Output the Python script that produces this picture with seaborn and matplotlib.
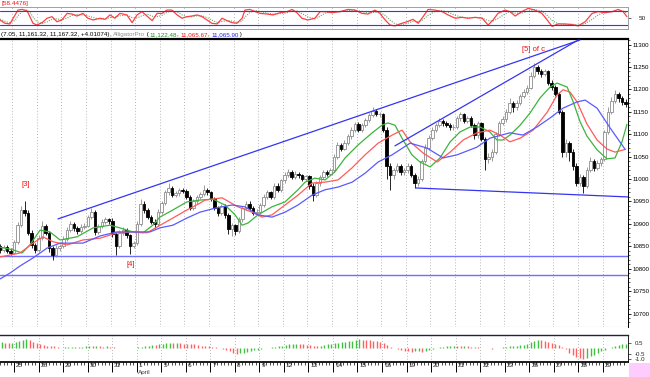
import matplotlib
matplotlib.use("Agg")
import matplotlib.pyplot as plt
import matplotlib.transforms as mtrans
from matplotlib.patches import Rectangle
import seaborn as sns
import numpy as np
import pandas as pd

sns.set_theme(style="white")
plt.rcParams['font.family'] = ['Liberation Sans', 'DejaVu Sans']

# ---- data (hourly bars, 7 per session) ----
days = ["25", "26", "29", "30", "31", "1", "5", "6", "7", "8", "9", "12", "13",
        "14", "15", "16", "19", "20", "21", "22", "23", "26", "27", "28", "29"]
pre_bars = 4
bars_per_day = 7

opens = [10850, 10842, 10848, 10840,
         10836, 10860, 10898, 10930, 10925, 10880, 10852,
         10841, 10868, 10895, 10880, 10845, 10830, 10846,
         10850, 10866, 10886, 10900, 10890, 10884, 10894,
         10896, 10915, 10926, 10882, 10895, 10905, 10910,
         10907, 10878, 10850, 10880, 10886, 10874, 10850,
         10857, 10900, 10945, 10930, 10915, 10905, 10900,
         10927, 10946, 10970, 10980, 10965, 10968, 10975,
         10974, 10960, 10935, 10950, 10960, 10966, 10976,
         10970, 10955, 10936, 10925, 10940, 10920, 10888,
         10897, 10885, 10910, 10935, 10945, 10935, 10925,
         10927, 10942, 10960, 10970, 10960, 10985, 10975,
         10997, 11010, 11015, 11005, 11012, 11008, 11000,
         11006, 10985, 10965, 10990, 11005, 11015, 11012,
         11019, 11050, 11075, 11068, 11080, 11095, 11110,
         11123, 11110, 11120, 11132, 11142, 11152, 11145,
         11145, 11110, 11030, 11010, 11020, 11030, 11015,
         11019, 11030, 11010, 10990, 11000, 11040, 11070,
         11092, 11110, 11120, 11130, 11125, 11120, 11115,
         11117, 11135, 11145, 11130, 11135, 11120, 11098,
         11125, 11090, 11045, 11050, 11060, 11100, 11125,
         11134, 11150, 11170, 11160, 11170, 11185, 11195,
         11204, 11230, 11250, 11240, 11235, 11240, 11215,
         11205, 11190, 11150, 11060, 11080, 11060, 11030,
         10992, 11005, 10985, 11020, 11040, 11025, 11035,
         11045, 11105, 11150, 11175, 11190, 11180, 11172]
closes = [10842, 10848, 10840, 10836,
          10860, 10898, 10930, 10925, 10880, 10852, 10841,
          10868, 10895, 10880, 10845, 10830, 10846, 10850,
          10866, 10886, 10900, 10890, 10884, 10894, 10896,
          10915, 10926, 10882, 10895, 10905, 10910, 10907,
          10878, 10850, 10880, 10886, 10874, 10850, 10857,
          10900, 10945, 10930, 10915, 10905, 10900, 10927,
          10946, 10970, 10980, 10965, 10968, 10975, 10974,
          10960, 10935, 10950, 10960, 10966, 10976, 10970,
          10955, 10936, 10925, 10940, 10920, 10888, 10897,
          10885, 10910, 10935, 10945, 10935, 10925, 10927,
          10942, 10960, 10970, 10960, 10985, 10975, 10997,
          11010, 11015, 11005, 11012, 11008, 11000, 11006,
          10985, 10965, 10990, 11005, 11015, 11012, 11019,
          11050, 11075, 11068, 11080, 11095, 11110, 11123,
          11110, 11120, 11132, 11142, 11152, 11145, 11145,
          11110, 11030, 11010, 11020, 11030, 11015, 11019,
          11030, 11010, 10990, 11000, 11040, 11070, 11092,
          11110, 11120, 11130, 11125, 11120, 11115, 11117,
          11135, 11145, 11130, 11135, 11120, 11098, 11125,
          11090, 11045, 11050, 11060, 11100, 11125, 11134,
          11150, 11170, 11160, 11170, 11185, 11195, 11204,
          11230, 11250, 11240, 11235, 11240, 11215, 11205,
          11190, 11150, 11060, 11080, 11060, 11030, 10992,
          11005, 10985, 11020, 11040, 11025, 11035, 11045,
          11105, 11150, 11175, 11190, 11180, 11172, 11167]
highs = [10856, 10853, 10852, 10846,
         10865, 10903, 10940, 10952, 10930, 10886, 10858,
         10874, 10906, 10900, 10884, 10850, 10852, 10856,
         10872, 10892, 10906, 10905, 10895, 10899, 10902,
         10920, 10936, 10930, 10900, 10910, 10916, 10914,
         10912, 10882, 10886, 10892, 10890, 10878, 10862,
         10906, 10955, 10950, 10935, 10920, 10910, 10932,
         10952, 10976, 10990, 10984, 10974, 10980, 10979,
         10978, 10964, 10955, 10965, 10972, 10986, 10980,
         10974, 10960, 10940, 10945, 10944, 10925, 10902,
         10900, 10915, 10940, 10950, 10950, 10940, 10932,
         10946, 10966, 10975, 10974, 10992, 10990, 11000,
         11016, 11022, 11020, 11018, 11016, 11012, 11010,
         11010, 10990, 10995, 11010, 11020, 11020, 11024,
         11056, 11082, 11080, 11086, 11100, 11116, 11128,
         11128, 11125, 11136, 11148, 11160, 11156, 11150,
         11148, 11115, 11035, 11025, 11035, 11034, 11024,
         11035, 11034, 11014, 11006, 11045, 11078, 11098,
         11116, 11126, 11136, 11134, 11130, 11124, 11122,
         11140, 11150, 11148, 11140, 11140, 11124, 11130,
         11128, 11094, 11058, 11066, 11105, 11130, 11140,
         11156, 11180, 11175, 11176, 11190, 11200, 11210,
         11238, 11258, 11254, 11246, 11246, 11244, 11220,
         11210, 11195, 11155, 11090, 11085, 11066, 11035,
         11012, 11010, 11026, 11048, 11045, 11042, 11050,
         11110, 11160, 11184, 11198, 11194, 11186, 11178]
lows = [10836, 10838, 10834, 10830,
        10832, 10856, 10894, 10918, 10874, 10845, 10836,
        10838, 10864, 10874, 10838, 10820, 10826, 10840,
        10846, 10862, 10882, 10885, 10878, 10880, 10889,
        10892, 10910, 10876, 10878, 10890, 10900, 10900,
        10870, 10830, 10846, 10875, 10868, 10832, 10845,
        10852, 10896, 10925, 10910, 10900, 10890, 10895,
        10922, 10942, 10965, 10960, 10960, 10963, 10968,
        10955, 10930, 10930, 10945, 10955, 10962, 10965,
        10950, 10930, 10918, 10920, 10914, 10878, 10872,
        10876, 10880, 10905, 10930, 10930, 10920, 10920,
        10922, 10938, 10955, 10955, 10956, 10970, 10970,
        10992, 11005, 11000, 11000, 11003, 10995, 10996,
        10978, 10950, 10960, 10985, 11000, 11006, 11008,
        11015, 11045, 11062, 11064, 11076, 11090, 11105,
        11104, 11105, 11115, 11128, 11138, 11140, 11138,
        11105, 11000, 10975, 11000, 11015, 11010, 11010,
        11014, 11005, 10980, 10985, 10995, 11035, 11065,
        11088, 11105, 11115, 11118, 11115, 11110, 11110,
        11112, 11130, 11125, 11125, 11115, 11090, 11092,
        11085, 11020, 11035, 11040, 11055, 11095, 11120,
        11128, 11145, 11150, 11155, 11165, 11180, 11190,
        11200, 11225, 11235, 11228, 11230, 11210, 11198,
        11185, 11145, 11050, 11050, 11040, 11020, 10985,
        10985, 10968, 10980, 11015, 11018, 11020, 11030,
        11040, 11100, 11145, 11170, 11172, 11166, 11160]

# Alligator lines (bar position, price)
lips_x = [0, 3.7, 6.3, 8.5, 11.4, 14.2, 17.1, 21.9, 26.5, 31.3, 34.1, 37.8, 40.7, 43.5,
          45.5, 49.2, 53.2, 56.9, 60.6, 64.0, 66.9, 68.9, 70.6, 73.4, 77.4, 81.1, 84.8,
          86.8, 89.6, 92.5, 95.3, 98.2, 101.9, 105.9, 108.7, 110.4, 112.4, 114.4, 117.2,
          119.5, 122.4, 125.2, 128.1, 130.9, 133.8, 136.6, 139.4, 141.4, 143.1, 145.1,
          148.0, 150.8, 153.7, 156.5, 158.5, 161.4, 163.1, 165.1, 167.0, 169.9, 172.7,
          175.0, 177.0, 178.4]
lips = [10848, 10842, 10835, 10853, 10886, 10882, 10864, 10871, 10891, 10897, 10891,
        10882, 10880, 10897, 10915, 10931, 10949, 10953, 10955, 10942, 10920, 10897,
        10902, 10920, 10938, 10949, 10976, 10993, 11002, 10998, 11016, 11047, 11076,
        11103, 11120, 11125, 11120, 11091, 11054, 11038, 11027, 11047, 11083, 11105,
        11116, 11116, 11105, 11087, 11087, 11098, 11120, 11147, 11181, 11205, 11214,
        11205, 11172, 11127, 11096, 11065, 11045, 11047, 11083, 11122]
teeth_x = [0, 5.7, 9.4, 12.2, 15.1, 19.1, 23.6, 28.5, 33.3, 37.8, 41.8, 44.7, 49.2,
           53.2, 56.9, 58.3, 63.2, 67.7, 71.7, 74.6, 77.4, 81.1, 84.8, 88.8, 92.5, 96.2,
           100.2, 103.9, 107.6, 111.6, 114.4, 116.7, 120.4, 124.4, 128.1, 131.8, 135.7,
           139.4, 142.3, 145.1, 148.0, 151.7, 155.7, 158.5, 160.2, 162.2, 164.2, 167.0,
           169.9, 172.7, 175.0, 177.9]
teeth = [10826, 10835, 10857, 10871, 10860, 10853, 10864, 10868, 10880, 10882, 10880,
         10893, 10913, 10931, 10946, 10953, 10958, 10938, 10926, 10915, 10920, 10942,
         10964, 10991, 10993, 10998, 11025, 11054, 11080, 11098, 11109, 11083, 11058,
         11038, 11060, 11087, 11103, 11109, 11098, 11083, 11091, 11109, 11149, 11187,
         11199, 11194, 11172, 11123, 11087, 11067, 11060, 11066]
jaw_x = [0, 2.8, 5.7, 9.4, 13.4, 17.1, 23.6, 28.5, 33.3, 37.8, 42.7, 45.5, 49.2, 53.2,
         56.9, 61.2, 66.0, 69.7, 73.4, 77.4, 81.1, 84.8, 88.8, 92.5, 96.2, 100.2, 103.9,
         107.6, 111.6, 116.7, 121.5, 126.1, 130.1, 135.7, 139.4, 145.1, 148.8, 152.8,
         156.5, 160.2, 164.2, 166.5, 169.9, 173.6, 177.9]
jaw = [10777, 10790, 10806, 10824, 10846, 10857, 10857, 10873, 10882, 10882, 10882,
       10891, 10897, 10913, 10926, 10935, 10942, 10938, 10920, 10915, 10926, 10942,
       10964, 10976, 10982, 10993, 11013, 11038, 11054, 11080, 11069, 11047, 11054,
       11071, 11091, 11103, 11098, 11116, 11136, 11158, 11172, 11176, 11158, 11114,
       11066]

# drawn trend lines (bar position, price)
upper_line = ([16.5, 165.0], [10911, 11310])
channel_line = ([112.4, 164.5], [11074, 11310])
lower_line = ([118.4, 178.7], [10980, 10960])
support_levels = [10828, 10786]

# upper stochastic panel
stoch_x = [0.0, 1.4, 2.8, 4.3, 5.1, 6.3, 7.7, 8.5, 9.4, 10.5, 12.0, 13.4, 14.8, 16.2, 17.6,
           19.1, 20.5, 21.9, 23.6, 25.0, 26.5, 28.5, 29.9, 31.3, 32.7, 34.1, 36.1, 37.6,
           39.0, 40.4, 41.8, 43.3, 44.7, 46.1, 47.5, 48.9, 50.4, 51.8, 53.2, 54.6, 56.1,
           57.5, 58.9, 60.3, 61.8, 63.2, 64.6, 66.0, 67.4, 68.9, 69.7, 71.1, 72.6, 74.0,
           76.0, 77.7, 79.7, 81.7, 83.1, 84.5, 85.9, 87.6, 89.6, 91.1, 92.5, 94.5, 96.8,
           99.0, 101.0, 103.0, 104.7, 106.7, 108.1, 109.6, 111.0, 112.4, 113.8, 115.8,
           117.5, 119.0, 120.4, 121.8, 123.8, 125.8, 127.5, 129.5, 131.5, 133.2, 135.2,
           137.2, 138.9, 140.3, 141.7, 143.7, 145.1, 146.6, 148.5, 150.3, 152.2, 154.2,
           155.7, 157.1, 158.8, 160.8, 162.8, 164.5, 166.5, 168.5, 170.2, 172.2, 174.2,
           175.9, 177.3, 178.4]
stoch_k = [41, 26, 23, 64, 86, 89, 83, 56, 26, 18, 29, 49, 56, 33, 41, 71, 68, 59, 71, 49,
           41, 49, 44, 64, 49, 71, 64, 29, 64, 79, 59, 38, 71, 71, 86, 86, 64, 49, 56, 59,
           64, 56, 41, 26, 23, 49, 38, 29, 26, 49, 86, 89, 79, 71, 68, 64, 74, 79, 89, 74,
           49, 41, 49, 79, 79, 74, 79, 89, 86, 71, 68, 86, 71, 41, 18, 14, 23, 33, 44, 26,
           56, 89, 86, 79, 64, 49, 53, 49, 53, 49, 18, 41, 71, 86, 79, 59, 79, 94, 86, 71,
           41, 12, 23, 23, 20, 14, 33, 71, 79, 74, 79, 89, 79, 56]
stoch_d = [45, 35, 28, 40, 60, 80, 86, 76, 55, 33, 24, 32, 45, 46, 42, 50, 62, 66, 64, 60,
           52, 45, 46, 52, 54, 60, 64, 52, 50, 60, 68, 58, 56, 62, 76, 82, 78, 64, 56, 56,
           60, 60, 52, 40, 30, 34, 38, 36, 30, 36, 55, 75, 84, 80, 72, 68, 70, 74, 82, 82,
           70, 55, 46, 58, 72, 80, 78, 84, 86, 80, 72, 76, 76, 62, 40, 24, 18, 25, 35, 34,
           42, 62, 80, 84, 76, 62, 54, 50, 52, 50, 38, 36, 48, 68, 80, 72, 72, 82, 88, 82,
           62, 38, 24, 20, 22, 18, 24, 44, 64, 76, 78, 82, 82, 72]

# lower oscillator histogram, one value per bar
osc = [0.55, 0.5, 0.45, 0.5,
       0.6, 0.7, 0.8, 0.9, 0.8, 0.6, 0.45,
       0.35, 0.3, 0.25, 0.2, 0.18, 0.1, 0.05,
       0.08, 0.1, 0.12, 0.15, 0.13, 0.15, 0.17,
       0.2, 0.18, 0.2, 0.17, 0.15, 0.18, 0.15,
       0.1, 0.05, 0.03, 0.04, 0.02, 0.05, 0.03,
       0.08, 0.15, 0.2, 0.25, 0.3, 0.28, 0.35,
       0.4, 0.45, 0.5, 0.48, 0.5, 0.45, 0.42,
       0.4, 0.38, 0.35, 0.3, 0.25, 0.22, 0.2,
       0.15, 0.1, 0.05, -0.05, -0.15, -0.3, -0.4,
       -0.5, -0.45, -0.4, -0.35, -0.3, -0.2, -0.12,
       -0.05, 0.02, 0.05, 0.08, 0.12, 0.18, 0.25,
       0.3, 0.35, 0.38, 0.4, 0.38, 0.35, 0.32,
       0.3, 0.25, 0.22, 0.25, 0.3, 0.35, 0.4,
       0.45, 0.5, 0.55, 0.6, 0.65, 0.7, 0.8,
       0.85, 0.8, 0.78, 0.72, 0.7, 0.65, 0.55,
       0.45, 0.3, 0.15, 0.0, -0.1, -0.2, -0.25,
       -0.3, -0.32, -0.3, -0.28, -0.32, -0.25, -0.15,
       -0.05, 0.05, 0.1, 0.15, 0.18, 0.2, 0.22,
       0.2, 0.18, 0.2, 0.17, 0.15, 0.12, 0.08,
       0.05, 0.02, -0.02, -0.05, -0.02, 0.05, 0.1,
       0.15, 0.2, 0.22, 0.25, 0.28, 0.3, 0.4,
       0.55, 0.7, 0.8, 0.78, 0.7, 0.6, 0.5,
       0.4, 0.3, 0.15, -0.1, -0.4, -0.6, -0.8,
       -0.95, -1.0, -0.9, -0.75, -0.6, -0.45, -0.3,
       -0.15, 0.0, 0.1, 0.2, 0.3, 0.35, 0.4]

wave_labels = [("[3]", 7.4, 10987), ("[4]", 37.3, 10810), ("[5] of c", 151.7, 11288)]

# ---- figure layout (pixel boxes) ----
W, H = 650, 377
fig = plt.figure(figsize=(W / 100, H / 100), dpi=100)
fig.patch.set_facecolor("white")


def box(x0, y0, x1, y1):
    return [x0 / W, 1 - y1 / H, (x1 - x0) / W, (y1 - y0) / H]


ax_top = fig.add_axes(box(0, 7, 628, 29))
ax = fig.add_axes(box(0, 38.5, 628, 327))
ax_bot = fig.add_axes(box(0, 335, 628, 361.5))

n = len(closes)
idx = np.arange(n)
xmax = n - 0.3
bounds = [pre_bars - 0.5 + bars_per_day * k for k in range(len(days))]

for a in (ax_top, ax, ax_bot):
    a.set_xlim(0, xmax)
    a.set_facecolor("white")
    for b in bounds:
        a.axvline(b, color="#a0a0a0", lw=0.6, ls=(0, (1, 2.5)), zorder=0)

# ---- main price panel ----
o = np.array(opens); c = np.array(closes); h = np.array(highs); l = np.array(lows)
up = c >= o
ax.vlines(idx[up], l[up], h[up], color="#8c8c8c", lw=0.6, zorder=2)
ax.vlines(idx[~up], l[~up], h[~up], color="black", lw=0.6, zorder=2)
ax.bar(idx[up], (c - o)[up], bottom=o[up], width=0.72, color="white",
       edgecolor="#8c8c8c", linewidth=0.6, zorder=3)
ax.bar(idx[~up], (c - o)[~up], bottom=o[~up], width=0.72, color="black",
       edgecolor="black", linewidth=0.6, zorder=3)

gator = pd.concat([
    pd.DataFrame({"x": lips_x, "y": lips, "line": "lips"}),
    pd.DataFrame({"x": teeth_x, "y": teeth, "line": "teeth"}),
    pd.DataFrame({"x": jaw_x, "y": jaw, "line": "jaw"}),
])
sns.lineplot(data=gator, x="x", y="y", hue="line", sort=False, estimator=None,
             palette={"lips": "#3cb43c", "teeth": "#ff5a5a", "jaw": "#5a5aff"},
             linewidth=0.9, legend=False, ax=ax, zorder=4)

for xs, ys in (upper_line, channel_line, lower_line):
    ax.plot(xs, ys, color="#3535f0", lw=0.9, zorder=5)
for lvl in support_levels:
    ax.axhline(lvl, color="#7070ff", lw=1.0, zorder=1)

for txt, x, y in wave_labels:
    ax.text(x, y, txt, color="#ee1111", fontsize=5.5, ha="center", va="center")

ax.set_ylim(10669.9, 11313.4)
ax.yaxis.tick_right()
ax.set_yticks(np.arange(10700, 11301, 50))
ax.set_yticks(np.arange(10680, 11311, 10), minor=True)
ax.tick_params(axis="y", which="major", direction="out", length=2.5, width=0.6,
               labelsize=4.4, pad=1, colors="black", right=True)
ax.tick_params(axis="y", which="minor", direction="out", length=1.3, width=0.5, right=True)
ax.set_xticks([])
ax.set_xlabel(""); ax.set_ylabel("")
for s in ("left", "bottom"):
    ax.spines[s].set_visible(False)
ax.spines["top"].set_linewidth(1.6)
ax.spines["top"].set_color("black")
ax.spines["right"].set_color("black")
ax.spines["right"].set_linewidth(0.7)
ax.axhline(10669.9, color="#c0a0c0", lw=0.8)

# ---- stochastic panel ----
stoch = pd.concat([
    pd.DataFrame({"x": stoch_x, "v": stoch_d, "s": "d"}),
    pd.DataFrame({"x": stoch_x, "v": stoch_k, "s": "k"}),
])
sns.lineplot(data=stoch[stoch.s == "d"], x="x", y="v", sort=False, estimator=None,
             color="#70a070", lw=0.8, ls=(0, (1, 1.2)), ax=ax_top)
sns.lineplot(data=stoch[stoch.s == "k"], x="x", y="v", sort=False, estimator=None,
             color="#ff4040", lw=0.9, ax=ax_top)
ax_top.axhline(80, color="#3535ff", lw=0.8)
ax_top.axhline(20, color="#3535ff", lw=0.8)
ax_top.set_ylim(0, 100)
ax_top.yaxis.tick_right()
ax_top.set_yticks([50])
ax_top.set_yticklabels(["50"])
ax_top.tick_params(axis="y", length=2, width=0.5, labelsize=4.6, pad=6)
ax_top.set_xticks([])
ax_top.set_xlabel(""); ax_top.set_ylabel("")
for s in ax_top.spines.values():
    s.set_color("#a0a0a0"); s.set_linewidth(0.7)
ax_top.spines["left"].set_visible(False)

# ---- oscillator histogram ----
osc_arr = np.array(osc)
cols = ["#40c040" if i == 0 or osc_arr[i] >= osc_arr[i - 1] else "#ff6060"
        for i in range(n)]
ax_bot.vlines(idx, 0, osc_arr, colors=cols, lw=1.0)
ax_bot.set_ylim(-1.23, 1.23)
ax_bot.yaxis.tick_right()
ax_bot.set_yticks([0.5, -0.5, -1.0])
ax_bot.set_yticklabels(["0.5", "-0.5", "-1.0"])
ax_bot.tick_params(axis="y", length=2, width=0.5, labelsize=4.4, pad=3)
ax_bot.set_xticks(bounds)
ax_bot.set_xticks(np.arange(0, n) - 0.5, minor=True)
ax_bot.set_xticklabels([])
ax_bot.tick_params(axis="x", which="major", direction="out", length=7, width=0.7,
                   color="black", bottom=True)
ax_bot.tick_params(axis="x", which="minor", direction="out", length=2, width=0.5,
                   color="black", bottom=True)
ax_bot.set_xlabel(""); ax_bot.set_ylabel("")
ax_bot.spines["left"].set_visible(False)
ax_bot.spines["top"].set_color("#202040")
ax_bot.spines["top"].set_linewidth(1.0)
ax_bot.spines["bottom"].set_color("black")
ax_bot.spines["right"].set_color("black")
ax_bot.spines["right"].set_linewidth(0.6)

tr = mtrans.blended_transform_factory(ax_bot.transData, ax_bot.transAxes)
for b, d in zip(bounds, days):
    ax_bot.text(b + 0.6, -0.16, d, transform=tr, fontsize=4.6, ha="left", va="center")
ax_bot.text(bounds[5] + 0.3, -0.4, "April", transform=tr, fontsize=4.6,
            ha="left", va="center", color="#404040")

# ---- header texts ----
fig.text(2 / W, 1 - 4 / H, "[58.4476]", color="#ee1111", fontsize=4.6,
         va="center", ha="left")

header = [("(7.05, 11,161.32, 11,167.32, +4.01074)", "black"),
          (", ", "black"), ("AlligatorPro", "#909090"), (" (", "black"),
          ("11,122.48", "#209020"), (", ", "black"), ("11,065.67", "#ee1111"),
          (", ", "black"), ("11,065.90", "#2020ee"), (" )", "black")]
renderer = fig.canvas.get_renderer()
xpos = 1 / W
for txt, col in header:
    t = fig.text(xpos, 1 - 34.5 / H, txt, color=col, fontsize=4.5,
                 va="center", ha="left")
    ext = t.get_window_extent(renderer=renderer)
    xpos += ext.width / W

fig.patches.append(Rectangle((629 / W, 0), 21 / W, 14 / H, transform=fig.transFigure,
                             facecolor="#ffccff", edgecolor="none"))

fig.savefig("out.png", dpi=100)
